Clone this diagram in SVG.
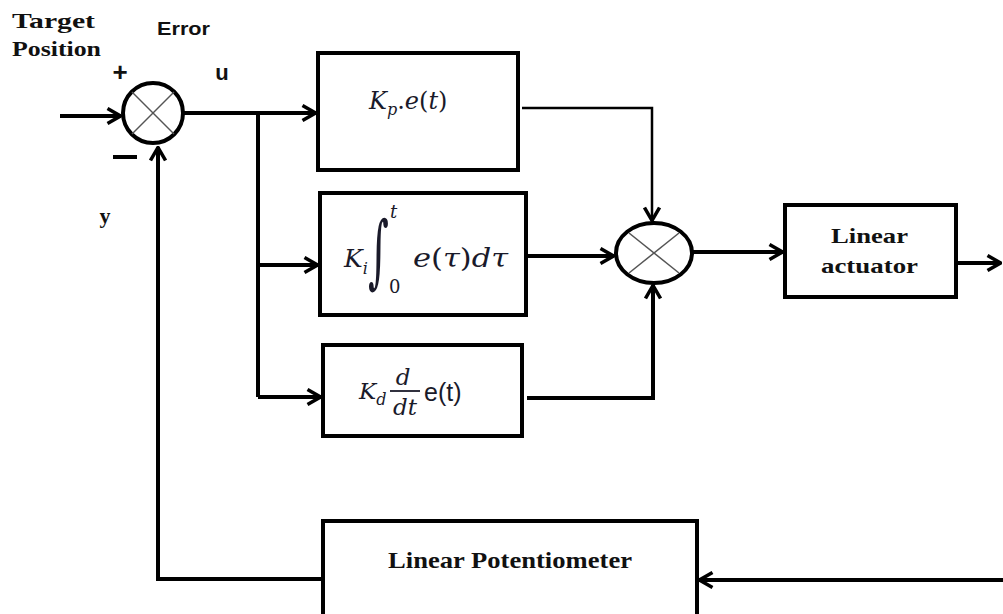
<svg xmlns="http://www.w3.org/2000/svg" width="1003" height="614" viewBox="0 0 1003 614">
<style>
.box{fill:#fff;stroke:#000;stroke-width:4}
.sum{fill:#fff;stroke:#000;stroke-width:4}
.x{stroke:#555;stroke-width:1.5}
.w{fill:none;stroke:#000;stroke-width:4}
.thin{fill:none;stroke:#000;stroke-width:2.5}
.lbl{font-family:"Liberation Serif",serif;font-weight:bold;fill:#111}
.sans{font-family:"Liberation Sans",Arial,sans-serif;font-weight:bold;fill:#111}
.m{font-family:"DejaVu Serif","Liberation Serif",serif;font-style:italic;fill:#1a1a2a}
.up{font-style:normal}
</style>
<defs>
<marker id="ah" viewBox="0 0 16 18" refX="15" refY="9" markerWidth="16" markerHeight="18" markerUnits="userSpaceOnUse" orient="auto">
<path d="M1.5,1.5 L14.5,9 L1.5,16.5" fill="none" stroke="#000" stroke-width="3.5"/>
</marker>
</defs>

<g id="connectors">
<line class="w" x1="60" y1="116" x2="121" y2="116" marker-end="url(#ah)"/>
<line class="w" x1="183" y1="113" x2="316" y2="113" marker-end="url(#ah)"/>
<polyline class="w" points="258,113 258,397"/>
<line class="w" x1="258" y1="265" x2="318" y2="265" marker-end="url(#ah)"/>
<line class="w" x1="258" y1="397" x2="321" y2="397" marker-end="url(#ah)"/>
<polyline class="thin" points="522,108 652,108 652,221" marker-end="url(#ah)"/>
<line class="w" x1="527" y1="256" x2="614" y2="256" marker-end="url(#ah)"/>
<polyline class="w" points="527,398 653,398 653,285" marker-end="url(#ah)"/>
<line class="w" x1="693" y1="252" x2="783" y2="252" marker-end="url(#ah)"/>
<line class="w" x1="957" y1="263" x2="1001" y2="263" marker-end="url(#ah)"/>
<line class="w" x1="1003" y1="580" x2="699" y2="580" marker-end="url(#ah)"/>
<polyline class="w" points="323,579 158,579 158,147" marker-end="url(#ah)"/>
</g>

<g id="sum1">
<circle class="sum" cx="153" cy="113" r="30"/>
<line class="x" x1="132" y1="92" x2="174" y2="134"/>
<line class="x" x1="174" y1="92" x2="132" y2="134"/>
</g>

<g id="sum2">
<ellipse class="sum" cx="654" cy="253" rx="38" ry="30"/>
<line class="x" x1="629" y1="233" x2="679" y2="273"/>
<line class="x" x1="679" y1="233" x2="629" y2="273"/>
</g>

<g id="kp">
<rect class="box" x="318" y="53" width="200" height="117"/>
<text class="m" x="369" y="109" font-size="24">K<tspan font-size="16" dy="6">p</tspan><tspan dy="-6" class="up">.</tspan>e<tspan class="up">(</tspan>t<tspan class="up">)</tspan></text>
</g>

<g id="ki">
<rect class="box" x="320" y="193" width="206" height="122"/>
<text class="m" x="344" y="267" font-size="25">K<tspan font-size="16" dy="7">i</tspan></text>
<text class="m up" font-size="40" transform="translate(368,278) scale(1,2)">∫</text>
<text class="m" x="390" y="218" font-size="18">t</text>
<text class="m up" x="389" y="293" font-size="18">0</text>
<text class="m" x="413" y="267" font-size="26" textLength="95" lengthAdjust="spacingAndGlyphs">e<tspan class="up">(</tspan>τ<tspan class="up">)</tspan>dτ</text>
</g>

<g id="kd">
<rect class="box" x="323" y="345" width="199" height="91"/>
<text class="m" x="359" y="399" font-size="23">K<tspan font-size="16" dy="6">d</tspan></text>
<text class="m" x="403" y="385" font-size="23" text-anchor="middle">d</text>
<line x1="390" y1="391" x2="420" y2="391" stroke="#1a1a2a" stroke-width="1.8"/>
<text class="m" x="405" y="415" font-size="23" text-anchor="middle">dt</text>
<text x="424" y="401" font-size="25" font-family="Liberation Sans,sans-serif" fill="#1a1a2a">e(t)</text>
</g>

<g id="actuator">
<rect class="box" x="785" y="205" width="171" height="92"/>
<text class="lbl" x="831" y="243" font-size="22" textLength="77" lengthAdjust="spacingAndGlyphs">Linear</text>
<text class="lbl" x="821" y="273" font-size="22" textLength="97" lengthAdjust="spacingAndGlyphs">actuator</text>
</g>

<g id="potentiometer">
<rect class="box" x="323" y="521" width="374" height="100"/>
<text class="lbl" x="510" y="568" font-size="23" text-anchor="middle" textLength="244" lengthAdjust="spacingAndGlyphs">Linear Potentiometer</text>
</g>

<g id="labels">
<text class="lbl" x="12" y="28" font-size="22" textLength="83" lengthAdjust="spacingAndGlyphs">Target</text>
<text class="lbl" x="12" y="56" font-size="22" textLength="89" lengthAdjust="spacingAndGlyphs">Position</text>
<text class="sans" x="157" y="35" font-size="19" textLength="53" lengthAdjust="spacingAndGlyphs">Error</text>
<text class="sans" x="120" y="81" font-size="26" text-anchor="middle">+</text>
<line x1="113" y1="157" x2="137" y2="157" stroke="#000" stroke-width="4"/>
<text class="sans" x="222" y="80" font-size="22" text-anchor="middle">u</text>
<text class="lbl" x="105" y="223" font-size="22" text-anchor="middle">y</text>
</g>
</svg>
